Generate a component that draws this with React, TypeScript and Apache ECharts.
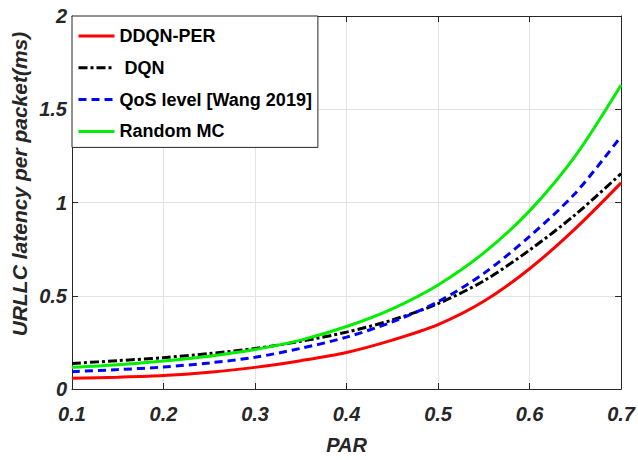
import React, { useEffect, useRef } from "react";
import * as echarts from "echarts";

const parValues = [0.1, 0.15, 0.2, 0.25, 0.3, 0.35, 0.4, 0.45, 0.5, 0.55, 0.6, 0.65, 0.7];
const ddqnPer = [0.057, 0.063, 0.072, 0.09, 0.116, 0.152, 0.196, 0.262, 0.345, 0.47, 0.645, 0.86, 1.105];
const dqn = [0.137, 0.152, 0.168, 0.19, 0.217, 0.256, 0.305, 0.37, 0.458, 0.58, 0.745, 0.935, 1.155];
const qosWang = [0.093, 0.104, 0.118, 0.14, 0.17, 0.218, 0.278, 0.36, 0.468, 0.62, 0.818, 1.05, 1.355];
const randomMc = [0.116, 0.13, 0.15, 0.176, 0.212, 0.262, 0.335, 0.43, 0.558, 0.73, 0.955, 1.25, 1.63];

const seriesNames = ["DDQN-PER", " DQN", "QoS level [Wang 2019]", "Random MC"];
const xTitle = "PAR";
const yTitle = "URLLC latency per packet(ms)";

const FONT = '"Liberation Sans", Arial, Helvetica, sans-serif';
const AX = "#262626";

export default function App() {
  const ref = useRef<HTMLDivElement>(null);
  useEffect(() => {
    if (!ref.current) return;
    const chart = echarts.init(ref.current, null, { renderer: "svg" });
    const pair = (ys: number[]) => parValues.map((x, i) => [x, ys[i]]);
    const mk = (name: string, ys: number[], color: string, type: any) => ({
      name,
      type: "line",
      data: pair(ys),
      smooth: 0.3,
      symbol: "none",
      xAxisIndex: 0,
      yAxisIndex: 0,
      lineStyle: { color, width: 3, type },
      itemStyle: { color },
    });
    const tickLabel = {
      color: AX,
      fontFamily: FONT,
      fontWeight: "bold",
      fontStyle: "italic",
      fontSize: 20,
    };
    chart.setOption({
      animation: false,
      backgroundColor: "#ffffff",
      grid: { left: 72, right: 16, top: 16, bottom: 70, containLabel: false },
      legend: {
        show: true,
        orient: "vertical",
        left: 72,
        top: 16,
        itemWidth: 36,
        itemHeight: 14,
        itemGap: 9.8,
        padding: [9, 6, 5, 5],
        borderColor: AX,
        borderWidth: 1,
        backgroundColor: "#ffffff",
        itemStyle: { opacity: 0, borderWidth: 0 },
        lineStyle: { width: 3 },
        textStyle: {
          color: "#000000",
          fontFamily: FONT,
          fontWeight: "bold",
          fontSize: 18,
          lineHeight: 22,
        },
        data: seriesNames,
      },
      xAxis: [
        {
          type: "value",
          min: 0.1,
          max: 0.7,
          interval: 0.1,
          position: "bottom",
          name: xTitle,
          nameLocation: "middle",
          nameGap: 46,
          nameTextStyle: { ...tickLabel, fontSize: 20 },
          axisLine: { show: true, onZero: false, lineStyle: { color: AX, width: 1 } },
          axisTick: { show: true, inside: true, length: 6, lineStyle: { color: AX } },
          axisLabel: { ...tickLabel, margin: 15 },
          splitLine: { show: true, lineStyle: { color: "#e3e3e3", width: 1 } },
        },
        {
          type: "value",
          min: 0.1,
          max: 0.7,
          interval: 0.1,
          position: "top",
          axisLine: { show: true, onZero: false, lineStyle: { color: AX, width: 1 } },
          axisTick: { show: true, inside: true, length: 6, lineStyle: { color: AX } },
          axisLabel: { show: false },
          splitLine: { show: false },
        },
      ],
      yAxis: [
        {
          type: "value",
          min: 0,
          max: 2,
          interval: 0.5,
          position: "left",
          axisLine: { show: true, onZero: false, lineStyle: { color: AX, width: 1 } },
          axisTick: { show: true, inside: true, length: 6, lineStyle: { color: AX } },
          axisLabel: { ...tickLabel, margin: 5 },
          splitLine: { show: true, lineStyle: { color: "#e3e3e3", width: 1 } },
        },
        {
          type: "value",
          min: 0,
          max: 2,
          interval: 0.5,
          position: "right",
          axisLine: { show: true, onZero: false, lineStyle: { color: AX, width: 1 } },
          axisTick: { show: true, inside: true, length: 6, lineStyle: { color: AX } },
          axisLabel: { show: false },
          splitLine: { show: false },
        },
      ],
      graphic: [
        {
          type: "text",
          x: 19,
          y: 184,
          rotation: Math.PI / 2,
          style: {
            text: yTitle,
            fill: AX,
            font: `italic bold 21px ${FONT}`,
            align: "center",
            verticalAlign: "middle",
          },
        },
      ],
      series: [
        mk(seriesNames[0], ddqnPer, "#ff0000", "solid"),
        mk(seriesNames[1], dqn, "#000000", [9, 3, 3, 3]),
        mk(seriesNames[2], qosWang, "#0000ff", [8, 5]),
        mk(seriesNames[3], randomMc, "#00ee00", "solid"),
      ],
    });
    return () => chart.dispose();
  }, []);
  return (
    <div
      ref={ref}
      style={{ position: "absolute", left: 0, top: 0, width: 638, height: 460 }}
    />
  );
}
